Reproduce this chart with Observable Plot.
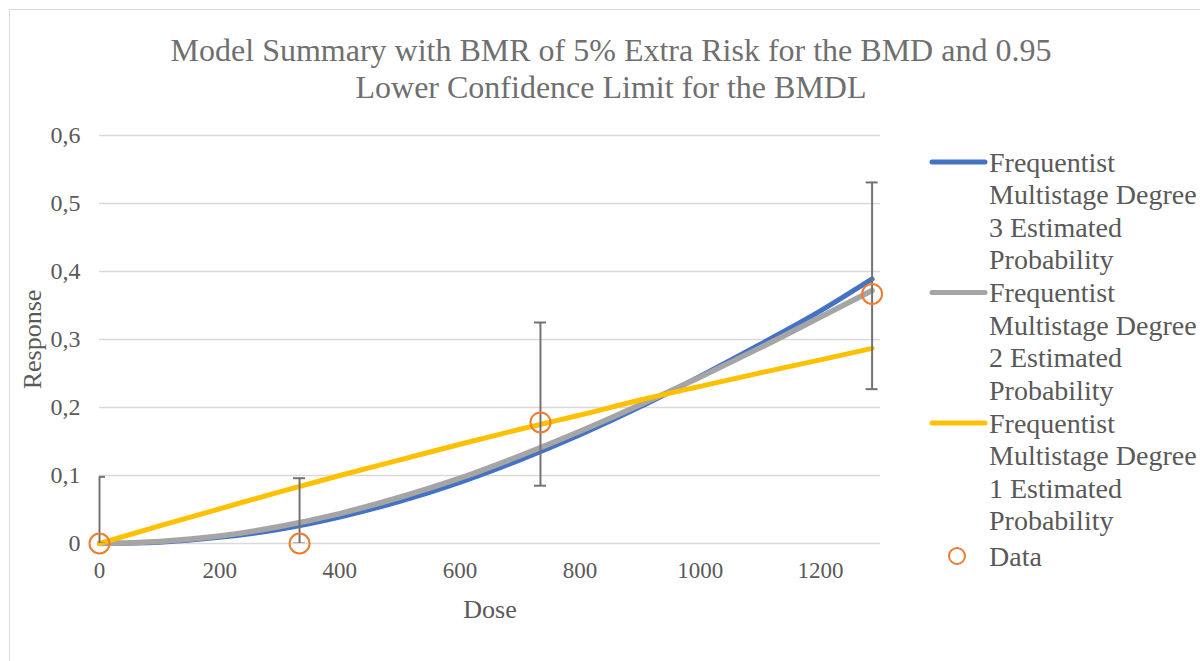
<!DOCTYPE html>
<html>
<head>
<meta charset="utf-8">
<script src="https://cdn.jsdelivr.net/npm/d3@7"></script>
<script src="https://cdn.jsdelivr.net/npm/@observablehq/plot@0.6"></script>
<style>
  html, body { margin: 0; padding: 0; background: #fff; }
  #wrap { position: relative; width: 1200px; height: 661px; overflow: hidden; }
  #border { position: absolute; left: 9px; top: 9px; width: 1300px; height: 800px; border: 1px solid #d9d9d9; box-sizing: border-box; }
  #title { position: absolute; left: 0; top: 0; }
  #chart { position: absolute; left: 0; top: 110px; }
  #legend { position: absolute; left: 0; top: 0; pointer-events: none; }
  svg { display: block; }
</style>
</head>
<body>
<div id="wrap">
  <div id="border"></div>
  <div id="title"></div>
  <div id="chart"></div>
  <div id="legend"></div>
</div>
<script>
// Observed data
const doses = [0, 333, 734, 1286];
const response = [0, 0, 0.178, 0.367];
const lowerCI = [0, 0, 0.085, 0.227];
const upperCI = [0.098, 0.096, 0.325, 0.531];

// Model curves
const curveDoses = [0, 100, 200, 300, 400, 500, 600, 700, 800, 900, 1000, 1100, 1200, 1286];
const degree3 = [0, 0.002, 0.009, 0.021, 0.039, 0.062, 0.090, 0.123, 0.160, 0.201, 0.246, 0.293, 0.342, 0.389];
const degree2 = [0, 0.003, 0.011, 0.025, 0.044, 0.068, 0.096, 0.129, 0.165, 0.204, 0.245, 0.288, 0.333, 0.372];
const degree1 = [0, 0.026, 0.051, 0.076, 0.100, 0.123, 0.146, 0.168, 0.189, 0.211, 0.231, 0.251, 0.270, 0.287];

const titleLines = ["Model Summary with BMR of 5% Extra Risk for the BMD and 0.95", "Lower Confidence Limit for the BMDL"];
const seriesNames = [
  "Frequentist Multistage Degree 3 Estimated Probability",
  "Frequentist Multistage Degree 2 Estimated Probability",
  "Frequentist Multistage Degree 1 Estimated Probability"
];
const legendLines = [
  ["Frequentist", "Multistage Degree", "3 Estimated", "Probability"],
  ["Frequentist", "Multistage Degree", "2 Estimated", "Probability"],
  ["Frequentist", "Multistage Degree", "1 Estimated", "Probability"]
];
const dataLabel = "Data";
const seriesColors = ["#4472C4", "#A5A5A5", "#FFC000"];
const xTicks = [0, 200, 400, 600, 800, 1000, 1200];
const yTicks = [0, 0.1, 0.2, 0.3, 0.4, 0.5, 0.6];

const obs = doses.map((d, i) => ({dose: d, resp: response[i], lo: lowerCI[i], hi: upperCI[i]}));
const curves = [degree3, degree2, degree1].map((vals, s) =>
  curveDoses.map((d, i) => ({dose: d, p: vals[i], s: seriesNames[s]})));

const capHalf = 10; // in dose units
const textColor = "#595959";
const serif = "'Liberation Serif', 'Times New Roman', serif";

const marks = [
  Plot.ruleY(yTicks, {stroke: "#d9d9d9", strokeWidth: 1.5}),
  Plot.axisY({ticks: yTicks, tickSize: 0, tickPadding: 19, tickFormat: d => d3.format(".1~f")(d).replace(".", ","), fontSize: 24, fill: textColor, label: null}),
  Plot.axisX({ticks: xTicks, tickSize: 0, tickPadding: 18, tickFormat: d => String(d), fontSize: 23, fill: textColor, label: null}),
  Plot.text(["Dose"], {frameAnchor: "bottom", dy: 66, fontSize: 26, fill: textColor, lineAnchor: "middle", textAnchor: "middle", fontFamily: serif}),
  Plot.text(["Response"], {frameAnchor: "left", dx: -67, rotate: -90, fontSize: 26, fill: textColor, lineAnchor: "middle", textAnchor: "middle", fontFamily: serif}),
];
[0, 1, 2].forEach(s => {
  marks.push(Plot.line(curves[s], {x: "dose", y: "p", stroke: seriesColors[s], strokeWidth: s === 1 ? 5.5 : 5, curve: "monotone-x"}));
});
marks.push(Plot.ruleX(obs, {x: "dose", y1: "lo", y2: "hi", stroke: "#767171", strokeWidth: 2}));
marks.push(Plot.ruleY(obs, {y: "hi", x1: d => d.dose - capHalf, x2: d => d.dose + capHalf, stroke: "#767171", strokeWidth: 2, clip: true}));
marks.push(Plot.ruleY(obs, {y: "lo", x1: d => d.dose - capHalf, x2: d => d.dose + capHalf, stroke: "#767171", strokeWidth: 2, clip: true}));
marks.push(Plot.dot(obs, {x: "dose", y: "resp", r: 10, stroke: "#ED7D31", strokeWidth: 2, fill: "none"}));

const chart = Plot.plot({
  width: 1200,
  height: 551,
  marginTop: 25,
  marginBottom: 118,
  marginLeft: 99,
  marginRight: 320,
  style: {fontFamily: serif, background: "transparent", overflow: "visible"},
  x: {domain: [0, 1300]},
  y: {domain: [0, 0.6]},
  marks
});
document.getElementById("chart").appendChild(chart);

// Title (SVG text)
const tsvg = d3.select("#title").append("svg").attr("width", 1200).attr("height", 110);
tsvg.selectAll("text").data(titleLines).join("text")
  .attr("x", 611).attr("y", (d, i) => 50 + i * 37).attr("dy", "0.34em")
  .attr("text-anchor", "middle")
  .attr("font-family", serif).attr("font-size", 32).attr("fill", "#6f6f6f")
  .text(d => d);

// Legend (SVG)
const lsvg = d3.select("#legend").append("svg").attr("width", 1200).attr("height", 661);
const itemTops = [162, 292.5, 423];
seriesNames.forEach((name, s) => {
  const g = lsvg.append("g").attr("aria-label", name);
  g.append("line").attr("x1", 932).attr("x2", 985).attr("y1", itemTops[s]).attr("y2", itemTops[s])
    .attr("stroke", seriesColors[s]).attr("stroke-width", 5).attr("stroke-linecap", "round");
  g.selectAll("text").data(legendLines[s]).join("text")
    .attr("x", 989).attr("y", (d, i) => itemTops[s] + i * 32.5).attr("dy", "0.34em")
    .attr("font-family", serif).attr("font-size", 28).attr("fill", textColor)
    .text(d => d);
});
lsvg.append("circle").attr("cx", 957).attr("cy", 556).attr("r", 8)
  .attr("fill", "none").attr("stroke", "#ED7D31").attr("stroke-width", 2);
lsvg.append("text").attr("x", 989).attr("y", 556).attr("dy", "0.34em")
  .attr("font-family", serif).attr("font-size", 28).attr("fill", textColor).text(dataLabel);
</script>
</body>
</html>
